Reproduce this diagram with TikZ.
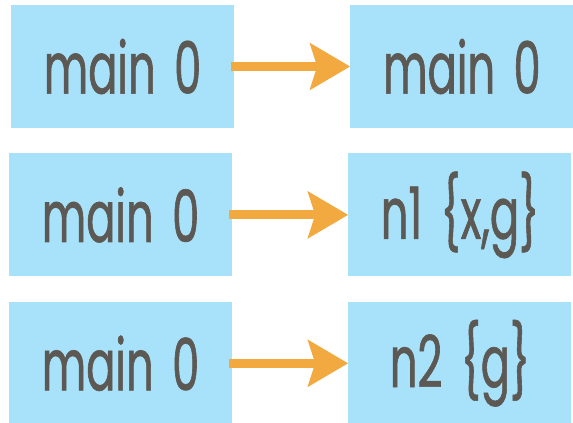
\documentclass[tikz,border=0pt]{standalone}
\usepackage{fontspec}
\setmainfont{Poppins}[FakeStretch=0.6, FakeBold=0.8, WordSpace=1.6]
\usepackage{xcolor}
\usetikzlibrary{arrows.meta, positioning}
\definecolor{boxblue}{HTML}{A8E2FA}
\definecolor{textgray}{HTML}{5C5853}
\definecolor{arrorange}{HTML}{F2A940}

\begin{document}
\begin{tikzpicture}[
    x=1pt, y=1pt,
    font=\fontsize{72}{76}\selectfont,
    node distance=25pt and 116pt,
    cell/.style={fill=boxblue, text=textgray, inner sep=0pt, minimum width=223pt, minimum height=123pt},
    arrow/.style={-{Stealth[length=40pt, width=46pt, inset=7pt]}, line width=9pt, draw=arrorange, shorten <=-3pt}
]
\useasboundingbox (0,0) rectangle (573,-423);

\node[cell] (main1) at (122.5,-66.5) {main 0};
\node[cell, right=of main1] (next1) {main 0};
\node[cell, below=of main1, xshift=-2pt] (main2) {main 0};
\node[cell, right=of main2] (next2) {n1 \{x,g\}};
\node[cell, below=of main2] (main3) {main 0};
\node[cell, right=of main3] (next3) {n2 \{g\}};

\draw[arrow] (main1) -- (next1);
\draw[arrow] (main2) -- (next2);
\draw[arrow] (main3) -- (next3);

\end{tikzpicture}
\end{document}
